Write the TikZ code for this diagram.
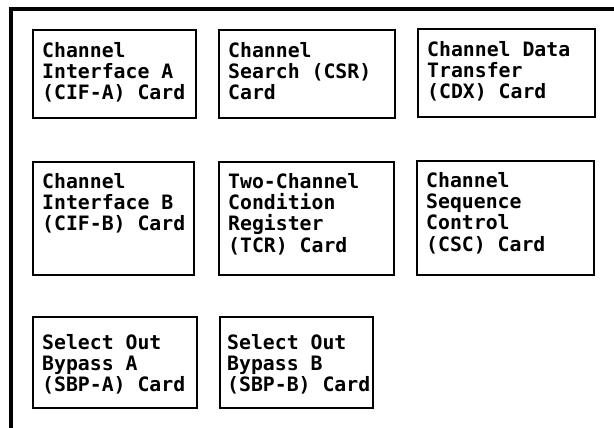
\documentclass[tikz,border=0pt]{standalone}
\usepackage{fontspec}
\newfontfamily\cardfam{DejaVu Sans Mono}
\begin{document}
\begin{tikzpicture}[x=1pt,y=-1pt,
  card/.style={draw, line width=2.6pt, inner sep=0pt, outer sep=0pt, anchor=north west},
  cardtext/.style={anchor=north west, align=left, inner sep=0pt,
    font=\cardfam\bfseries\fontsize{19.8}{21.3}\selectfont},
  frame/.style={line width=3.2pt}]
\useasboundingbox (0,0) rectangle (614,428);
% outer frame
\coordinate (ftl) at (11,9);
\coordinate (fr) at (614,9);
\coordinate (fb) at (11,428);
\draw[frame] (fb) -- (ftl) -- (fr);
% row 1
\node[card, minimum width=163pt, minimum height=88pt] (cifa) at (33,30) {};
\node[cardtext] (tcifa) at (42,42) {Channel\\Interface A\\(CIF-A) Card};
\node[card, minimum width=176pt, minimum height=88pt] (csr) at (219,30) {};
\node[cardtext] (tcsr) at (228,42) {Channel\\Search (CSR)\\Card};
\node[card, minimum width=177pt, minimum height=88pt] (cdx) at (418,29) {};
\node[cardtext] (tcdx) at (427,41) {Channel Data\\Transfer\\(CDX) Card};
% row 2
\node[card, minimum width=161pt, minimum height=113pt] (cifb) at (33,162) {};
\node[cardtext] (tcifb) at (42,173) {Channel\\Interface B\\(CIF-B) Card};
\node[card, minimum width=175pt, minimum height=113pt] (tcr) at (219,162) {};
\node[cardtext] (ttcr) at (228,173) {Two-Channel\\Condition\\Register\\(TCR) Card};
\node[card, minimum width=177pt, minimum height=114pt] (csc) at (417,161) {};
\node[cardtext] (tcsc) at (426,172) {Channel\\Sequence\\Control\\(CSC) Card};
% row 3
\node[card, minimum width=164pt, minimum height=91pt] (sbpa) at (33,317) {};
\node[cardtext] (tsbpa) at (42,334) {Select Out\\Bypass A\\(SBP-A) Card};
\node[card, minimum width=153pt, minimum height=91pt] (sbpb) at (220,317) {};
\node[cardtext] (tsbpb) at (227,334) {Select Out\\Bypass B\\(SBP-B) Card};
\end{tikzpicture}
\end{document}
